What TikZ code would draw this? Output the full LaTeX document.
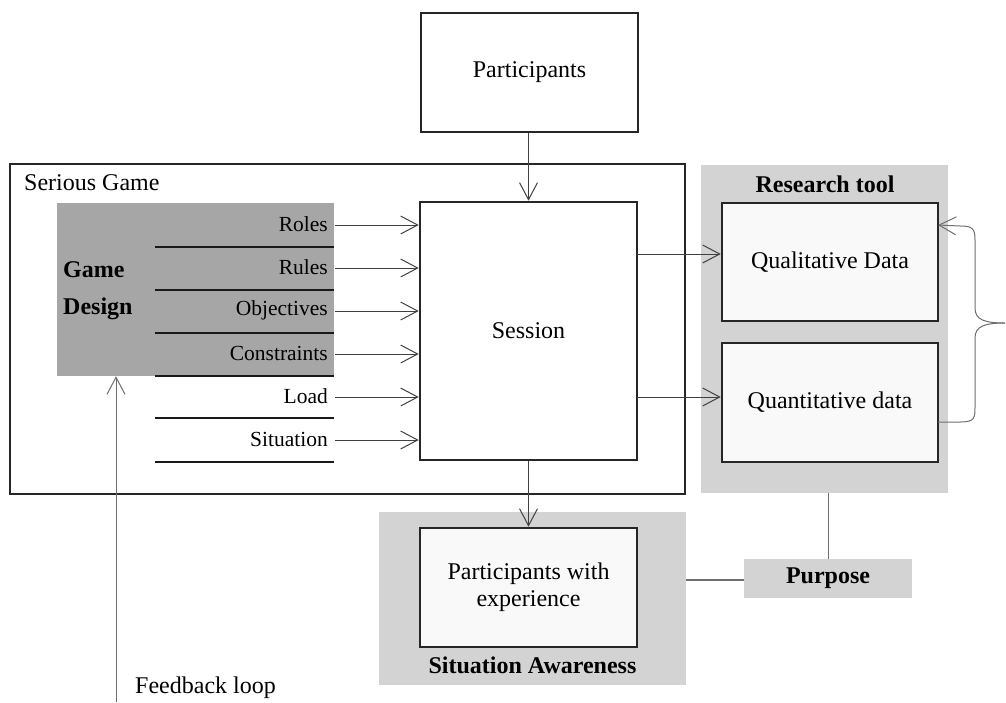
\documentclass[tikz,border=0pt]{standalone}
\usepackage{fontspec}
\setmainfont{Liberation Serif}
\usetikzlibrary{arrows.meta}
\definecolor{gdgray}{HTML}{A6A6A6}
\definecolor{bggray}{HTML}{D3D3D3}
\definecolor{boxfill}{HTML}{F9F9F9}
\definecolor{linegray}{HTML}{6E6E6E}
\definecolor{conn}{HTML}{404040}
\tikzset{
  big/.style={font=\fontsize{24}{28}\selectfont},
  small/.style={font=\fontsize{21.5}{25}\selectfont},
  frame/.style={draw=black!85, line width=2.6pt, inner sep=0pt},
  area/.style={fill=#1, draw=none, inner sep=0pt},
  arr/.style={-{Straight Barb[length=17pt,width=18pt]}, line width=1pt, draw=conn},
  garr/.style={-{Straight Barb[length=17pt,width=18pt]}, line width=1pt, draw=linegray},
  sepline/.style={line width=2.8pt, draw=black!90},
}
\begin{document}
\begin{tikzpicture}[x=1pt,y=-1pt]
\useasboundingbox (0,0) rectangle (1006,702);
% backgrounds
\node[area=bggray, minimum width=247pt, minimum height=328pt] (rt) at (824.5,329) {};
\node[area=bggray, minimum width=307pt, minimum height=173pt] (sa) at (532.5,598.5) {};
\node[area=bggray, minimum width=168pt, minimum height=39pt, font=\fontsize{24}{28}\selectfont\bfseries] (pur) at (828,578.5) {Purpose};
% serious game frame
\node[frame, minimum width=675pt, minimum height=330pt] (sg) at (347.5,329) {};
\node[big, anchor=west, inner sep=0pt] (sgl) at (24,183) {Serious Game};
% game design
\node[area=gdgray, minimum width=277pt, minimum height=173pt] (gd) at (195.5,289.5) {};
\node[anchor=west, inner sep=0pt, align=left, font=\fontsize{24}{37}\selectfont\bfseries] (gdl) at (63,291) {Game\\Design};
\foreach \y [count=\i] in {247,290,333,376,418,462}{
  \coordinate (la\i) at (155,\y);
  \coordinate (lb\i) at (334,\y);
  \draw[sepline] (la\i) -- (lb\i);
}
% participants
\node[frame, fill=white, big, minimum width=217pt, minimum height=119pt] (part) at (529.5,72.5) {Participants};
% session
\node[frame, fill=white, minimum width=217pt, minimum height=258pt] (ses) at (528.5,331) {};
\node[big, inner sep=0pt] (sest) at (528.5,331) {Session};
% labels
\foreach \t/\y/\n in {Roles/224/r1, Rules/267/r2, Objectives/310/r3, Constraints/353/r4, Load/396/r5, Situation/439/r6}{
  \node[small, anchor=east, inner sep=0pt] (\n) at (328,\y) {\t};
  \draw[arr] ([xshift=7pt,yshift=-1pt]\n.east) -- ([yshift=-1pt]\n.east -| ses.west);
}
\draw[arr] (ses.north |- part.south) -- (ses.north);
% research tool
\node[font=\fontsize{24}{28}\selectfont\bfseries, inner sep=0pt] (rtl) at (825,184) {Research tool};
\node[frame, fill=boxfill, big, minimum width=216pt, minimum height=118pt] (qual) at (830,262) {Qualitative Data};
\node[frame, fill=boxfill, big, minimum width=216pt, minimum height=119pt] (quan) at (830,402.5) {Quantitative data};
\coordinate (s1) at (637,254);
\coordinate (s2) at (637,397);
\draw[arr] (s1) -- (s1 -| qual.west);
\draw[arr] (s2) -- (s2 -| quan.west);
% brace
\coordinate (bq) at (938,422);
\coordinate (bt) at (1005,323);
\coordinate (bu) at (938,225);
\draw[line width=1pt, draw=linegray] (bq) -- (960,422) .. controls (975,422) and (975,418) .. (975,406) -- (975,338) .. controls (975,326) and (985,323) .. (bt);
\draw[garr] (bt) .. controls (985,323) and (975,320) .. (975,308) -- (975,240) .. controls (975,228) and (972,226) .. (960,226) -- (bu);
% situation awareness
\node[frame, fill=boxfill, minimum width=217pt, minimum height=119pt, align=center, font=\fontsize{24}{27}\selectfont] (pwe) at (528.5,587.5) {Participants with\\experience};
\node[font=\fontsize{24}{28}\selectfont\bfseries, inner sep=0pt] (sal) at (532.5,665) {Situation Awareness};
\draw[arr] (ses.south) -- (pwe.north);
% purpose connectors
\draw[line width=1pt, draw=linegray] (rt.south -| pur.north) -- (pur.north);
\coordinate (sae) at (sa.east |- 0,580);
\draw[line width=1.5pt, draw=linegray] (sae) -- (sae -| pur.west);
% feedback
\coordinate (fb) at (116,702);
\draw[garr] (fb) -- (fb |- gd.south);
\node[big, anchor=west, inner sep=0pt] (fbl) at (135,688) {Feedback loop};
\end{tikzpicture}
\end{document}
